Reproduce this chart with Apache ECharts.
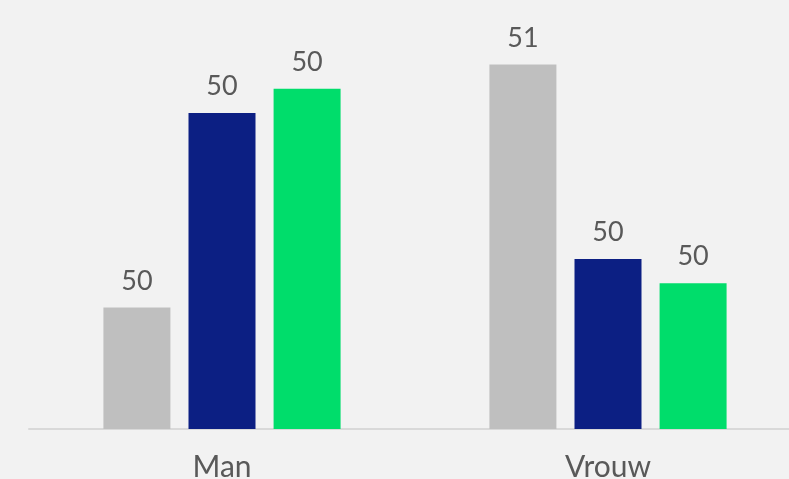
<!DOCTYPE html>
<html>
<head>
<meta charset="utf-8">
<script src="https://cdn.jsdelivr.net/npm/echarts@6/dist/echarts.min.js"></script>
<style>
  html, body { margin: 0; padding: 0; background: #f2f2f2; }
  #chart { width: 789px; height: 479px; }
</style>
</head>
<body>
<div id="chart"></div>
<script>
// Categories and the three series (percentages)
const categories = ['Man', 'Vrouw'];
const seriesGray = [49.5, 50.5];
const seriesNavy = [50.3, 49.7];
const seriesGreen = [50.4, 49.6];

const labelStyle = {
  show: true,
  position: 'top',
  distance: 13,
  color: '#595959',
  fontFamily: 'Lato, "Noto Sans", sans-serif',
  fontSize: 27,
  formatter: p => Math.round(p.value)
};

function bar(name, data, color) {
  return {
    name, type: 'bar', data,
    barWidth: 67,
    barGap: '27%',
    itemStyle: { color },
    label: labelStyle,
    silent: true
  };
}

const chart = echarts.init(document.getElementById('chart'), null, { renderer: 'canvas' });
chart.setOption({
  backgroundColor: '#f2f2f2',
  animation: false,
  grid: {
    left: 29, width: 772, top: 1, bottom: 50,
    containLabel: false,
    outerBoundsMode: 'none'
  },
  xAxis: {
    type: 'category',
    data: categories,
    axisLine: { lineStyle: { color: '#d9d9d9', width: 2 } },
    axisTick: { show: false },
    axisLabel: {
      color: '#595959',
      fontFamily: 'Lato, "Noto Sans", sans-serif',
      fontSize: 30,
      margin: 23
    }
  },
  yAxis: {
    type: 'value',
    min: 49,
    max: 49 + 428 / 243,
    show: false,
    splitLine: { show: false }
  },
  series: [
    bar('Gray', seriesGray, '#bfbfbf'),
    bar('Navy', seriesNavy, '#0c1f83'),
    bar('Green', seriesGreen, '#00dd6b')
  ]
});
</script>
</body>
</html>
